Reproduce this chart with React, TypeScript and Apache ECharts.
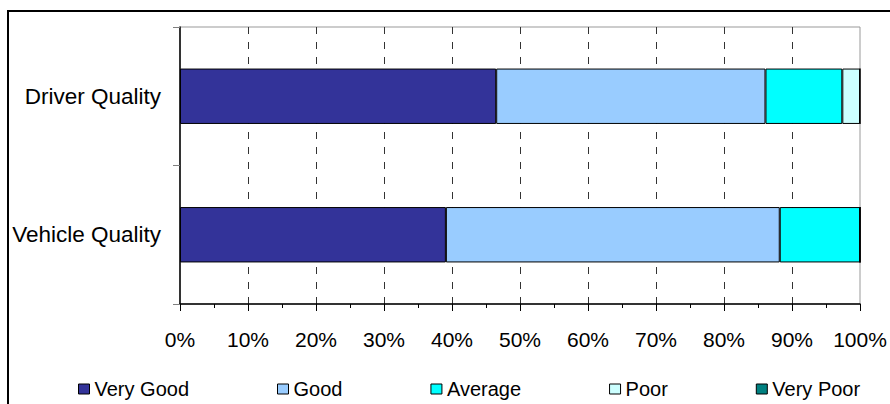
import React, { useEffect, useRef } from "react";
import * as echarts from "echarts";

const categories = ["Driver Quality", "Vehicle Quality"];
const seriesNames = ["Very Good", "Good", "Average", "Poor", "Very Poor"];
const veryGood = [46.5, 39.1];
const good = [39.6, 49.1];
const average = [11.3, 11.8];
const poor = [2.6, 0];
const veryPoor = [0, 0];
const seriesColors = ["#333399", "#99CCFF", "#00FFFF", "#CCFFFF", "#008080"];
const xTicks = [0, 10, 20, 30, 40, 50, 60, 70, 80, 90, 100];

const FONT = "'Liberation Sans', Arial, sans-serif";

export default function App() {
  const ref = useRef<HTMLDivElement>(null);
  useEffect(() => {
    if (!ref.current) return;
    const chart = echarts.init(ref.current, null, { renderer: "svg" });
    const values = [veryGood, good, average, poor, veryPoor];
    chart.setOption({
      animation: false,
      backgroundColor: "#ffffff",
      textStyle: { fontFamily: FONT },
      graphic: [
        {
          type: "rect",
          shape: { x: 8, y: 11, width: 900, height: 420 },
          style: { fill: "none", stroke: "#000", lineWidth: 2 },
          silent: true,
          z: 0,
        },
      ],
      grid: {
        left: 180,
        top: 27,
        right: 30,
        bottom: 100,
        show: true,
        borderColor: "#999999",
        borderWidth: 1,
        containLabel: false,
      },
      legend: {
        left: 73,
        top: 374,
        itemWidth: 11,
        itemHeight: 10,
        itemGap: 88,
        icon: "rect",
        itemStyle: { borderColor: "#000", borderWidth: 1 },
        textStyle: { fontFamily: FONT, fontSize: 20, color: "#000" },
        data: seriesNames,
      },
      xAxis: {
        type: "value",
        min: xTicks[0],
        max: xTicks[xTicks.length - 1],
        interval: 10,
        axisLine: { show: true, lineStyle: { color: "#000", width: 1.5 } },
        axisTick: { show: true, length: 7, lineStyle: { color: "#000", width: 1 } },
        minorTick: { show: true, splitNumber: 2, length: 4, lineStyle: { color: "#000", width: 1 } },
        axisLabel: {
          formatter: "{value}%",
          fontFamily: FONT,
          fontSize: 21,
          color: "#000",
          margin: 25,
        },
        splitLine: {
          show: true,
          showMinLine: false,
          showMaxLine: false,
          lineStyle: { color: "#333", width: 1, type: [7, 8] },
        },
      },
      yAxis: {
        type: "category",
        inverse: true,
        data: categories,
        axisLine: { show: true, lineStyle: { color: "#000", width: 1.5 } },
        axisTick: { show: true, length: 7, lineStyle: { color: "#808080", width: 1 } },
        axisLabel: { fontFamily: FONT, fontSize: 22.5, color: "#000", margin: 19 },
        splitLine: { show: false },
      },
      series: seriesNames.map((name, i) => ({
        name,
        type: "bar",
        stack: "total",
        data: values[i],
        barCategoryGap: "60%",
        itemStyle: { color: seriesColors[i], borderColor: "#000", borderWidth: 1 },
      })),
    });
    return () => chart.dispose();
  }, []);
  return (
    <div
      ref={ref}
      style={{ position: "absolute", left: 0, top: 0, width: 890, height: 404, background: "#fff" }}
    />
  );
}
